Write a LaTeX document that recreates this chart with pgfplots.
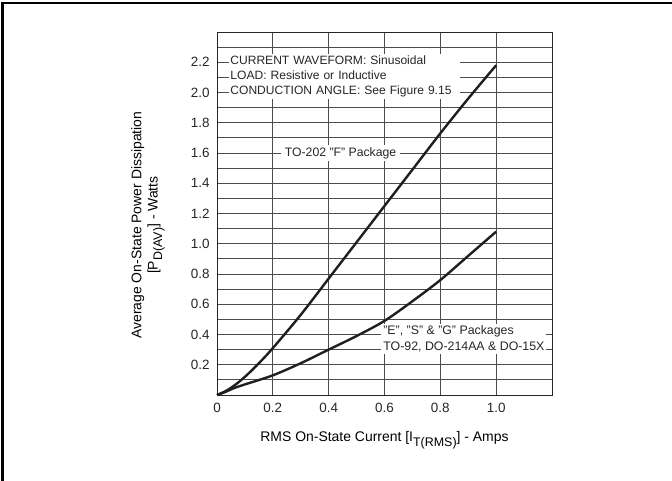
\documentclass[border=0pt]{standalone}
\usepackage{pgfplots}
\pgfplotsset{compat=1.18}
\usepackage{fontspec}
\setmainfont{Liberation Sans}
\begin{document}
\begin{tikzpicture}[x=1bp,y=1bp]
\path[use as bounding box] (0,0) rectangle (672,481);
\draw[line width=2.2bp] (2.5,0) -- (2.5,478) -- (672,478);
\begin{axis}[
  at={(217bp,86bp)}, anchor=south west,
  scale only axis, width=335bp, height=363bp,
  xmin=0, xmax=1.2, ymin=0, ymax=2.4,
  xtick={0,0.2,0.4,0.6,0.8,1.0,1.2},
  xticklabels={0,0.2,0.4,0.6,0.8,1.0,},
  ytick={0.1,0.2,0.3,0.4,0.5,0.6,0.7,0.8,0.9,1.0,1.1,1.2,1.3,1.4,1.5,1.6,1.7,1.8,1.9,2.0,2.1,2.2,2.3},
  yticklabels={,0.2,,0.4,,0.6,,0.8,,1.0,,1.2,,1.4,,1.6,,1.8,,2.0,,2.2,},
  major tick length=0pt,
  grid=major,
  grid style={line width=0.9bp, color=black!70},
  axis line style={line width=0.9bp, color=black!85},
  tick label style={font=\fontsize{13.5}{15}\selectfont, text=black!85},
  xticklabel style={yshift=-5bp},
  yticklabel style={xshift=-4bp},
  xlabel={RMS On-State Current [I\raisebox{-0.32em}{\fontsize{12.5}{14}\selectfont T(RMS)}] - Amps},
  xlabel style={font=\fontsize{14}{16}\selectfont, at={(axis description cs:0.5,-0.124)}, anchor=center},
  ylabel={Average On-State Power Dissipation\\{}[P\raisebox{-0.32em}{\fontsize{12.5}{14}\selectfont D(AV)}] - Watts},
  ylabel style={font=\fontsize{14}{16.5}\selectfont, align=center, at={(axis description cs:-0.206,0.468)}, anchor=center},
  clip=false,
]
\node[fill=white, inner xsep=1.5bp, inner ysep=2bp, anchor=west, text width=228bp, align=left,
  font=\fontsize{12.1}{15.05}\selectfont, text=black!85] at (axis cs:0.042,2.105)
  {CURRENT WAVEFORM: Sinusoidal\\LOAD: Resistive or Inductive\\CONDUCTION ANGLE: See Figure 9.15};
\node[fill=white, inner xsep=4bp, inner ysep=2bp, anchor=west,
  font=\fontsize{12.3}{14}\selectfont, text=black!85] at (axis cs:0.228,1.6) {TO-202 "F" Package};
\node[fill=white, inner xsep=2bp, inner ysep=2bp, anchor=west, align=left,
  font=\fontsize{12.4}{15.5}\selectfont, text=black!85] at (axis cs:0.588,0.37)
  {"E", "S" \& "G" Packages\\TO-92, DO-214AA \& DO-15X};
\addplot[smooth, line width=2.4bp, color=black!88] coordinates {
  (0,0) (0.03,0.025) (0.06,0.06) (0.1,0.12) (0.15,0.21) (0.2,0.31) (0.3,0.53) (0.4,0.77)
  (0.5,1.01) (0.6,1.25) (0.7,1.49) (0.8,1.73) (0.9,1.96) (1.0,2.18)};
\addplot[smooth, line width=2.4bp, color=black!88] coordinates {
  (0,0) (0.03,0.02) (0.06,0.045) (0.1,0.07) (0.2,0.13) (0.3,0.21) (0.4,0.30)
  (0.5,0.39) (0.6,0.49) (0.7,0.62) (0.8,0.76) (0.9,0.92) (1.0,1.08)};
\end{axis}
\end{tikzpicture}
\end{document}
